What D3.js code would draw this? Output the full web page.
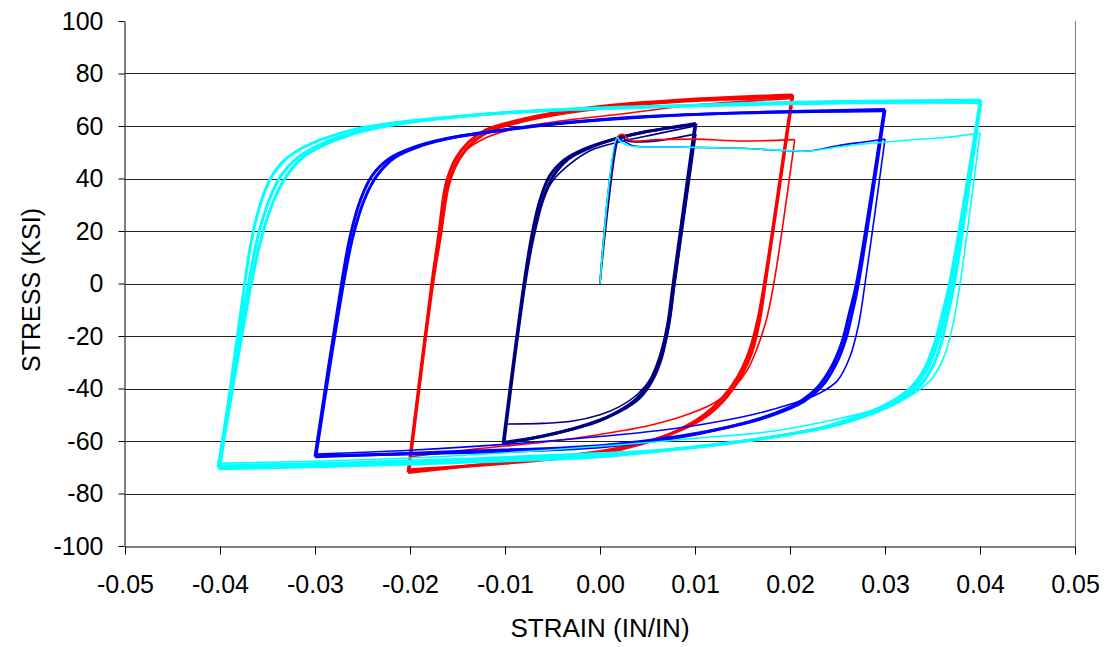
<!DOCTYPE html>
<html>
<head>
<meta charset="utf-8">
<script src="https://cdnjs.cloudflare.com/ajax/libs/d3/7.8.5/d3.min.js"></script>
<style>
  body { margin: 0; background: #fff; }
  svg { display: block; font-family: Arial, "Liberation Sans", sans-serif; }
</style>
</head>
<body>
<svg width="1108" height="647"></svg>
<script>
// strain (in/in) vs stress (ksi) - four specimens cycled at +-0.01, 0.02, 0.03, 0.04
var xTicks = [-0.05, -0.04, -0.03, -0.02, -0.01, 0, 0.01, 0.02, 0.03, 0.04, 0.05];
var yTicks = [-100, -80, -60, -40, -20, 0, 20, 40, 60, 80, 100];

// each specimen: list of branches, every branch is [strain, stress] points
// first entries = virgin loading and first reversals (thin), rest = steady cycles
var navyBranches = [
  [[0,0],[0.0019,55],[0.0022,56.5],[0.0028,54.5],[0.0050,54],[0.0080,55.5],[0.0101,57]],
  [[0.0101,57],[0.0079,0],[0.0073,-16],[0.0065,-28],[0.0054,-36],[0.0040,-42],[0.0020,-47],[0.0000,-50],[-0.0030,-52.5],[-0.0060,-53.3],[-0.0099,-53.5]],
  [[-0.0099,-53.5],[-0.0079,0],[-0.0071,18],[-0.0062,30],[-0.0051,38.5],[-0.0035,44.5],[-0.0011,50.5],[0.0021,54],[0.0060,57],[0.0100,60]],
  [[0.0101,61],[0.0078,0],[0.0072,-16],[0.0065,-28],[0.0055,-37],[0.0042,-43.5],[0.0022,-48.5],[0.0000,-52],[-0.0030,-55.5],[-0.0065,-58.5],[-0.0102,-61]],
  [[-0.0102,-61],[-0.0080,0],[-0.0072,18],[-0.0063,32],[-0.0053,41],[-0.0038,47],[-0.0018,51],[0.0010,54.5],[0.0045,57.5],[0.0101,61]],
  [[0.0100,60.5],[0.0077,0],[0.0071,-16],[0.0063,-28],[0.0052,-37.5],[0.0038,-44],[0.0018,-49],[-0.0004,-52.8],[-0.0035,-56],[-0.0068,-58.7],[-0.0101,-60.5]],
  [[-0.0101,-60.5],[-0.0079,0],[-0.0070,18],[-0.0060,32],[-0.0049,41],[-0.0033,47.5],[-0.0012,51.5],[0.0015,55],[0.0050,58],[0.0100,60.5]]
];

var redBranches = [
  [[0,0],[0.0019,56],[0.0024,56.8],[0.0032,54.5],[0.0060,54.8],[0.0100,55],[0.0150,54.3],[0.0205,54.8]],
  [[0.0205,54.8],[0.0183,0],[0.0175,-14],[0.0165,-25],[0.0155,-33],[0.0140,-40],[0.0120,-45.5],[0.0095,-49.5],[0.0053,-54],[0.0000,-57.5],[-0.0060,-60.5],[-0.0130,-63],[-0.0200,-66]],
  [[-0.0200,-66],[-0.0177,0],[-0.0170,18],[-0.0162,35],[-0.0154,44],[-0.0145,49.5],[-0.0120,55.5],[-0.0087,59.2],[-0.0040,62],[0.0020,64.5],[0.0100,68],[0.0203,70.5]],
  [[0.0203,71.8],[0.0174,0],[0.0168,-14],[0.0160,-26],[0.0149,-35],[0.0134,-43],[0.0114,-50],[0.0087,-55.5],[0.0053,-60],[0.0000,-64],[-0.0100,-68],[-0.0202,-72]],
  [[-0.0202,-72],[-0.0177,0],[-0.0170,18],[-0.0162,38],[-0.0152,47.5],[-0.0138,54],[-0.0120,58.5],[-0.0090,61.8],[-0.0040,65.5],[0.0010,67.8],[0.0090,70],[0.0203,71.8]],
  [[0.0202,71],[0.0173,0],[0.0166,-14],[0.0157,-26],[0.0145,-35.5],[0.0129,-43.5],[0.0108,-50.5],[0.0080,-56.3],[0.0045,-61],[0.0000,-64.8],[-0.0100,-68.5],[-0.0201,-71]],
  [[-0.0201,-71],[-0.0176,0],[-0.0168,18],[-0.0159,38],[-0.0148,47.5],[-0.0133,54],[-0.0114,58.3],[-0.0085,61.5],[-0.0035,65],[0.0015,67.3],[0.0090,69.5],[0.0202,71]]
];

var blueBranches = [
  [[0,0],[0.0019,55],[0.0024,54.5],[0.0035,52.5],[0.0080,52],[0.0150,51.5],[0.0220,50.5],[0.0250,52.5],[0.0280,54],[0.0300,55]],
  [[0.0300,55],[0.0279,0],[0.0272,-16],[0.0263,-28],[0.0250,-37],[0.0230,-42],[0.0200,-46],[0.0160,-50],[0.0110,-53.5],[0.0050,-56.5],[0.0000,-58.3],[-0.0100,-61.3],[-0.0200,-63.5],[-0.0300,-65]],
  [[0.0300,66.3],[0.0272,0],[0.0265,-12],[0.0258,-22],[0.0248,-31],[0.0234,-39],[0.0214,-45],[0.0180,-50.3],[0.0140,-54.3],[0.0087,-58],[0.0000,-61.8],[-0.0150,-64],[-0.0300,-66]],
  [[-0.0300,-66],[-0.0272,0],[-0.0263,18],[-0.0252,32],[-0.0240,41],[-0.0222,47.5],[-0.0195,52],[-0.0160,55.3],[-0.0110,58],[-0.0040,61],[0.0050,63.5],[0.0150,65],[0.0300,66.3]],
  [[0.0299,65.8],[0.0270,0],[0.0262,-12],[0.0255,-22],[0.0244,-31.5],[0.0229,-39.5],[0.0208,-45.5],[0.0172,-51],[0.0132,-55],[0.0080,-58.8],[0.0000,-62.3],[-0.0150,-64.5],[-0.0299,-65.6]],
  [[-0.0299,-65.6],[-0.0270,0],[-0.0260,18],[-0.0248,32],[-0.0235,41],[-0.0216,48],[-0.0188,52.5],[-0.0152,55.8],[-0.0102,58.5],[-0.0030,61.5],[0.0060,63.8],[0.0150,65],[0.0299,65.8]]
];

var cyanBranches = [
  [[0,0],[0.0018,55.5],[0.0022,54],[0.0030,52.5],[0.0080,52],[0.0150,51.5],[0.0220,50.5],[0.0260,52.5],[0.0320,54.5],[0.0360,55.5],[0.0400,57.3]],
  [[0.0400,57.3],[0.0379,0],[0.0372,-15],[0.0363,-27],[0.0350,-36],[0.0330,-42],[0.0300,-47],[0.0245,-52],[0.0175,-56.6],[0.0100,-59],[0.0000,-62],[-0.0200,-66.5],[-0.0400,-68.5]],
  [[0.0401,69.5],[0.0370,0],[0.0363,-12],[0.0355,-23],[0.0344,-33],[0.0328,-40.5],[0.0305,-46],[0.0275,-50.5],[0.0240,-54.5],[0.0190,-58],[0.0130,-61],[0.0060,-63.8],[0.0000,-65.3],[-0.0200,-68],[-0.0402,-70]],
  [[-0.0402,-70],[-0.0370,0],[-0.0360,18],[-0.0348,32],[-0.0336,41],[-0.0320,47.5],[-0.0300,52],[-0.0275,55.8],[-0.0240,59.2],[-0.0190,62],[-0.0120,64.5],[-0.0040,66.2],[0.0060,67.3],[0.0200,68.5],[0.0401,69.5]],
  [[0.0400,69],[0.0368,0],[0.0360,-12],[0.0352,-23],[0.0340,-33.5],[0.0323,-41],[0.0299,-46.5],[0.0268,-51],[0.0232,-55],[0.0182,-58.5],[0.0122,-61.5],[0.0052,-64.2],[0.0000,-66],[-0.0200,-68.8],[-0.0401,-70.6]],
  [[-0.0401,-70.6],[-0.0367,0],[-0.0356,18],[-0.0343,32],[-0.0330,41],[-0.0313,48],[-0.0292,52.5],[-0.0266,56.3],[-0.0230,59.6],[-0.0180,62.4],[-0.0110,64.8],[-0.0030,66.5],[0.0070,67.6],[0.0200,68.8],[0.0400,69]],
  [[0.0401,69.8],[0.0373,0],[0.0366,-12],[0.0359,-23],[0.0349,-32.5],[0.0334,-40],[0.0312,-45.5],[0.0283,-50],[0.0248,-54],[0.0198,-57.5],[0.0138,-60.6],[0.0068,-63.4],[0.0000,-64.8],[-0.0200,-67.6],[-0.0400,-69.5]],
  [[-0.0400,-69.5],[-0.0374,0],[-0.0366,18],[-0.0356,32],[-0.0346,40.5],[-0.0332,47],[-0.0314,51.5],[-0.0290,55.3],[-0.0257,58.8],[-0.0205,61.7],[-0.0130,64.2],[-0.0050,66],[0.0050,67.2],[0.0200,69],[0.0401,69.8]]
];

// number of thin (first-cycle) branches at the start of each list
var series = [
  { color: "#000080", branches: navyBranches, thin: 3 },
  { color: "#FF0000", branches: redBranches, thin: 3 },
  { color: "#0000FF", branches: blueBranches, thin: 2 },
  { color: "#00FFFF", branches: cyanBranches, thin: 2 }
];

var width = 1108, height = 647;
var margin = { left: 125, right: 33, top: 21, bottom: 101 };

var x = d3.scaleLinear().domain([-0.05, 0.05]).range([margin.left, width - margin.right]);
var y = d3.scaleLinear().domain([-100, 100]).range([height - margin.bottom, margin.top]);

var svg = d3.select("svg");

// horizontal gridlines
svg.append("g")
  .selectAll("line")
  .data(yTicks.filter(function(d) { return d > -100 && d < 100; }))
  .enter().append("line")
  .attr("x1", x(-0.05)).attr("x2", x(0.05))
  .attr("y1", function(d) { return Math.round(y(d)) + 0.5; })
  .attr("y2", function(d) { return Math.round(y(d)) + 0.5; })
  .attr("stroke", "#222")
  .attr("stroke-width", 1);

// plot area right border
svg.append("line")
  .attr("x1", Math.round(x(0.05)) + 0.5).attr("x2", Math.round(x(0.05)) + 0.5)
  .attr("y1", y(100)).attr("y2", y(-100))
  .attr("stroke", "#808080");

var line = d3.line()
  .x(function(d) { return x(d[0]); })
  .y(function(d) { return y(d[1]); })
  .curve(d3.curveCatmullRom.alpha(0.5));

var plot = svg.append("g");
series.forEach(function(s) {
  plot.append("g")
    .selectAll("path")
    .data(s.branches)
    .enter().append("path")
    .attr("d", line)
    .attr("fill", "none")
    .attr("stroke", s.color)
    .attr("stroke-width", function(d, i) { return i < s.thin ? 1.6 : 3; })
    .attr("stroke-linejoin", "round");
});

function hyphen(f) {
  return function(d) { return f(d).replace("\u2212", "-"); };
}

// axes
var xAxis = svg.append("g")
  .attr("transform", "translate(0," + (Math.round(y(-100)) + 0.5) + ")")
  .call(d3.axisBottom(x).tickValues(xTicks).tickFormat(hyphen(d3.format(".2f")))
    .tickSize(8).tickSizeOuter(0).tickPadding(21));

var yAxis = svg.append("g")
  .attr("transform", "translate(" + (Math.round(x(-0.05)) - 0.5) + ",0)")
  .call(d3.axisLeft(y).tickValues(yTicks).tickFormat(hyphen(d3.format("d")))
    .tickSize(6).tickSizeOuter(0).tickPadding(15));

[xAxis, yAxis].forEach(function(a) {
  a.selectAll("path, line").attr("stroke", "#000");
  a.selectAll("text").attr("font-size", 25).attr("fill", "#000")
    .attr("font-family", "Arial, 'Liberation Sans', sans-serif");
});

svg.append("text")
  .attr("x", x(0)).attr("y", 637)
  .attr("text-anchor", "middle")
  .attr("font-size", 26)
  .text("STRAIN (IN/IN)");

svg.append("text")
  .attr("transform", "translate(40," + 290 + ") rotate(-90)")
  .attr("text-anchor", "middle")
  .attr("font-size", 25)
  .text("STRESS (KSI)");
</script>
</body>
</html>
